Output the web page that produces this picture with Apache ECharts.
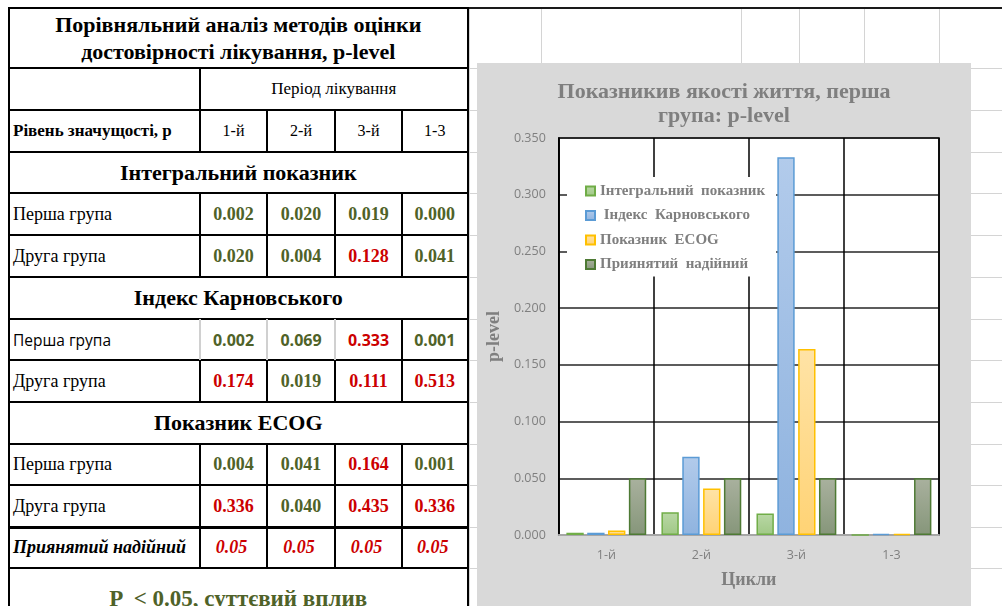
<!DOCTYPE html>
<html>
<head>
<meta charset="utf-8">
<script src="https://cdn.jsdelivr.net/npm/echarts/dist/echarts.min.js"></script>
<style>
  html, body { margin: 0; padding: 0; }
  body { width: 1002px; height: 606px; overflow: hidden; background: #fff; position: relative;
         font-family: 'Liberation Serif', 'Times New Roman', serif; }
  .ln { position: absolute; }
  .tx { position: absolute; display: flex; align-items: center; white-space: pre; color: #000; }
  #chart { position: absolute; left: 477px; top: 63px; width: 494px; height: 560px; }
</style>
</head>
<body>
<div id="sheet"></div>
<div id="table"></div>
<div id="chart"></div>
<script>
// ---- data ----
const periods = ['1-й', '2-й', '3-й', '1-3'];
const integralFirst   = [0.002, 0.020, 0.019, 0.000];
const integralSecond  = [0.020, 0.004, 0.128, 0.041];
const karnovskyFirst  = [0.002, 0.069, 0.333, 0.001];
const karnovskySecond = [0.174, 0.019, 0.111, 0.513];
const ecogFirst       = [0.004, 0.041, 0.164, 0.001];
const ecogSecond      = [0.336, 0.040, 0.435, 0.336];
const acceptedLevel   = [0.05, 0.05, 0.05, 0.05];
const sectionTitles = ['Інтегральний показник', 'Індекс Карновського', 'Показник ECOG'];
const groupLabels = ['Перша група', 'Друга група'];
const seriesNames = ['Інтегральний  показник', ' Індекс  Карновського', 'Показник  ECOG', 'Приянятий  надійний'];
const yMax = 0.35;
const yStep = 0.05;

// ---- sheet background grid ----
const GRID_GRAY = '#d4d4d4';
const rowY = [8, 68, 110, 152, 193, 235, 277, 319, 360, 402, 444, 485, 527, 568, 640];
const colX = [9, 200, 267, 335, 402, 467.5];
const sheetCols = [469.5, 541, 741.5, 799, 864.5, 939];

const sheet = document.getElementById('sheet');
const table = document.getElementById('table');

function line(parent, x, y, w, h, color) {
  const d = document.createElement('div');
  d.className = 'ln';
  d.style.left = x + 'px'; d.style.top = y + 'px';
  d.style.width = w + 'px'; d.style.height = h + 'px';
  d.style.background = color;
  parent.appendChild(d);
}
function vline(parent, x, y0, y1, w, color) { line(parent, x - w / 2, y0, w, y1 - y0, color); }
function hline(parent, y, x0, x1, w, color) { line(parent, x0, y - w / 2, x1 - x0, w, color); }

sheetCols.forEach(x => vline(sheet, x, 8, 606, 1, GRID_GRAY));
rowY.slice(1, 14).forEach(y => hline(sheet, y, 467, 1002, 1, GRID_GRAY));
hline(sheet, 8, 8, 1002, 2, '#1a1a1a');

// ---- table ----
const GREEN = '#4f6228';
const RED = '#cc0000';
const highlightAbove = 0.1;

function text(x0, x1, y0, y1, str, css, align) {
  const d = document.createElement('div');
  d.className = 'tx';
  d.style.left = x0 + 'px'; d.style.top = y0 + 'px';
  d.style.width = (x1 - x0) + 'px'; d.style.height = (y1 - y0) + 'px';
  d.style.justifyContent = align === 'left' ? 'flex-start' : 'center';
  if (align === 'left') d.style.paddingLeft = '4px';
  Object.assign(d.style, css);
  d.textContent = str;
  table.appendChild(d);
  return d;
}

// white sheet under the table
line(table, 8, 8, 460, 600, '#fff');

const TW = 2;
// title
text(colX[0], colX[5], rowY[0], rowY[1], 'Порівняльний аналіз методів оцінки\nдостовірності лікування, p-level',
  { fontWeight: 'bold', fontSize: '22px', lineHeight: '27px', textAlign: 'center' });
// period header
text(colX[1], colX[5], rowY[1], rowY[2], 'Період лікування', { fontSize: '17px' });
text(colX[0], colX[1], rowY[2], rowY[3], 'Рівень значущості, р', { fontWeight: 'bold', fontSize: '17px' }, 'left');
periods.forEach((p, i) => text(colX[i + 1], colX[i + 2], rowY[2], rowY[3], p, { fontSize: '16px' }));

const sections = [
  { title: sectionTitles[0], rows: [integralFirst, integralSecond], start: 3 },
  { title: sectionTitles[1], rows: [karnovskyFirst, karnovskySecond], start: 6 },
  { title: sectionTitles[2], rows: [ecogFirst, ecogSecond], start: 9 }
];
sections.forEach(sec => {
  text(colX[0], colX[5], rowY[sec.start], rowY[sec.start + 1], sec.title, { fontWeight: 'bold', fontSize: '22px' });
  sec.rows.forEach((vals, r) => {
    const ri = sec.start + 1 + r;
    const sans = (ri === 7);
    const fam = sans ? "'Open Sans', sans-serif" : "'Liberation Serif', serif";
    text(colX[0], colX[1], rowY[ri], rowY[ri + 1], groupLabels[r], { fontSize: sans ? '15.5px' : '18px', fontFamily: fam }, 'left');
    vals.forEach((v, i) => text(colX[i + 1], colX[i + 2], rowY[ri], rowY[ri + 1], v.toFixed(3),
      { fontWeight: 'bold', fontSize: sans ? '16px' : '18px', fontFamily: fam, color: v < highlightAbove ? GREEN : RED }));
  });
});
text(colX[0], colX[1], rowY[12], rowY[13], 'Приянятий надійний', { fontWeight: 'bold', fontStyle: 'italic', fontSize: '18px' }, 'left');
acceptedLevel.forEach((v, i) => text(colX[i + 1], colX[i + 2] - 4, rowY[12], rowY[13], v.toFixed(2),
  { fontWeight: 'bold', fontStyle: 'italic', fontSize: '18px', color: RED }));
text(colX[0], colX[5], rowY[13], rowY[13] + 62, 'P  < 0.05, суттєвий вплив', { fontWeight: 'bold', fontSize: '23px', color: GREEN });

// table rules
rowY.slice(0, 14).forEach((y, i) => hline(table, y, colX[0] - 1, colX[5] + 1, i === 12 ? 3 : (i === 0 ? 2.5 : TW), '#000'));
vline(table, colX[0], rowY[0], 606, TW, '#000');
vline(table, colX[5], rowY[0], 606, TW, '#000');
const valueRows = [2, 4, 5, 7, 8, 10, 11, 12];
[1, 2, 4, 5, 7, 8, 10, 11, 12].forEach(ri => {
  const light = ri === 7;
  vline(table, colX[1], rowY[ri], rowY[ri + 1], TW, light ? '#d0d0d0' : '#000');
});
valueRows.forEach(ri => {
  const light = ri === 7;
  vline(table, colX[2], rowY[ri], rowY[ri + 1], TW, light ? '#d0d0d0' : '#000');
  vline(table, colX[3], rowY[ri], rowY[ri + 1], TW, light ? '#d0d0d0' : '#000');
  vline(table, colX[4], rowY[ri], rowY[ri + 1], TW, '#000');
});

// ---- chart ----
const serif = 'Liberation Serif';
const gray = '#7f7f7f';
const barLooks = [
  { top: '#b9d8a5', bottom: '#a0c886', border: '#70ad47' },
  { top: '#b2cbeb', bottom: '#8fb3df', border: '#5b9bd5' },
  { top: '#ffe3a6', bottom: '#ffd375', border: '#ffc000' },
  { top: '#a9b19e', bottom: '#86967a', border: '#4e7a34' }
];
const seriesValues = [integralFirst, karnovskyFirst, ecogFirst, acceptedLevel];

const chart = echarts.init(document.getElementById('chart'));
chart.setOption({
  animation: false,
  backgroundColor: '#d9d9d9',
  title: {
    text: 'Показникив якості життя, перша\nгрупа: p-level',
    left: 'center', top: 12,
    textStyle: { fontFamily: serif, fontWeight: 'bold', fontSize: 22, lineHeight: 24, color: gray }
  },
  legend: {
    orient: 'vertical', left: 90, top: 114,
    backgroundColor: '#fff', padding: [6, 11, 4, 18],
    itemWidth: 9, itemHeight: 9, itemGap: 8.5, icon: 'rect',
    textStyle: { fontFamily: serif, fontWeight: 'bold', fontSize: 15, lineHeight: 16, color: gray },
    data: seriesNames
  },
  grid: { left: 75, top: 75, width: 387, height: 397, show: true, backgroundColor: '#fff', borderColor: '#000', borderWidth: 1.5 },
  xAxis: {
    type: 'category', data: periods,
    name: 'Цикли', nameLocation: 'middle', nameGap: 36,
    nameTextStyle: { fontFamily: serif, fontWeight: 'bold', fontSize: 18, color: gray },
    axisLine: { lineStyle: { color: '#a6a6a6', width: 2 } },
    axisTick: { show: false },
    axisLabel: { margin: 14, color: gray, fontFamily: 'Open Sans', fontSize: 12.5 },
    splitLine: { show: true, lineStyle: { color: '#000', width: 1.5 } }
  },
  yAxis: {
    type: 'value', min: 0, max: yMax, interval: yStep,
    name: 'p-level', nameLocation: 'middle', nameGap: 48,
    nameTextStyle: { fontFamily: serif, fontWeight: 'bold', fontSize: 18, color: gray },
    axisLine: { show: true, lineStyle: { color: '#000', width: 1.5 } },
    axisTick: { show: false },
    axisLabel: { margin: 13, color: gray, fontFamily: 'Open Sans', fontSize: 12.5, formatter: v => v.toFixed(3) },
    splitLine: { lineStyle: { color: '#262626', width: 1.5 } }
  },
  series: seriesNames.map((name, i) => ({
    name, type: 'bar', data: seriesValues[i],
    barGap: '20%', barCategoryGap: '16%',
    itemStyle: {
      color: new echarts.graphic.LinearGradient(0, 0, 0, 1, [
        { offset: 0, color: barLooks[i].top }, { offset: 1, color: barLooks[i].bottom }
      ]),
      borderColor: barLooks[i].border, borderWidth: 1.5
    }
  }))
});
</script>
</body>
</html>
